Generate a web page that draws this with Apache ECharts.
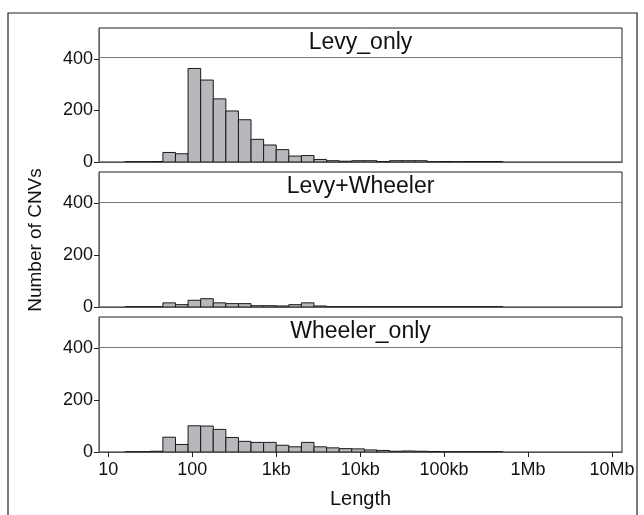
<!DOCTYPE html>
<html><head><meta charset="utf-8">
<script src="https://cdn.jsdelivr.net/npm/echarts@6/dist/echarts.min.js"></script>
<style>html,body{margin:0;padding:0;background:#fff}#c{width:644px;height:515px}</style>
</head><body><div id="c"></div>
<script>
// Histogram bins on log10(length) scale
const binLowerLog = [1.2,1.35,1.5,1.65,1.8,1.95,2.1,2.25,2.4,2.55,2.7,2.85,3.0,3.15,3.3,3.45,3.6,3.75,3.9,4.05,4.2,4.35,4.5,4.65,4.8,4.95,5.1,5.25,5.4,5.55];
const binWidthLog = 0.15;
const panelNames = ['Levy_only', 'Levy+Wheeler', 'Wheeler_only'];
const levyOnly =     [1,1,2,37,32,363,318,245,198,164,88,66,48,23,25,10,5,3,5,5,2,5,5,5,1,2,1,2,2,2];
const levyWheeler =  [1,1,1,16,9,26,32,16,13,13,5,5,4,9,16,4,1,1,1,1,1,1,1,1,1,1,1,1,1,1];
const wheelerOnly =  [1,1,3,57,29,101,100,87,56,41,37,37,26,20,37,20,16,13,12,8,6,3,4,3,2,1,1,1,1,1];
const panelValues = [levyOnly, levyWheeler, wheelerOnly];
const xTickValues = [1,2,3,4,5,6,7];
const xTickLabels = ['10','100','1kb','10kb','100kb','1Mb','10Mb'];
const yTickValues = [0,200,400];
const yMax = 520;
const stripLineValue = 405;

const FONT = "'Liberation Sans Narrow','Arial Narrow','Liberation Sans',Arial,sans-serif";
const gridTops = [28, 172, 317];
const gridH = [134, 135, 135];
const gridLeft = 99, gridRight = 22;

const chart = echarts.init(document.getElementById('c'), null, {renderer: 'canvas'});

const grids = [], xAxes = [], yAxes = [], series = [], graphics = [];
panelNames.forEach((name, i) => {
  grids.push({left: gridLeft, right: gridRight, top: gridTops[i], height: gridH[i], show: true, borderColor: '#1e1e1e', borderWidth: 1, containLabel: false});
  const last = i === panelNames.length - 1;
  xAxes.push({
    type: 'value', gridIndex: i, min: 0.889, max: 7.119,
    axisLine: {show: true, lineStyle: {color: '#555', width: 1}},
    axisTick: {show: last, length: 5, customValues: xTickValues, lineStyle: {color: '#222'}},
    axisLabel: {show: last, customValues: xTickValues, margin: 9, fontFamily: FONT, fontSize: 18, color: '#111',
      formatter: v => { const k = xTickValues.indexOf(Math.round(v)); return k >= 0 ? xTickLabels[k] : ''; }},
    splitLine: {show: false},
    name: last ? 'Length' : '', nameLocation: 'middle', nameGap: 37,
    nameTextStyle: {fontFamily: FONT, fontSize: 20, color: '#111'}
  });
  yAxes.push({
    type: 'value', gridIndex: i, min: 0, max: yMax,
    axisLine: {show: true, lineStyle: {color: '#666', width: 1}},
    axisTick: {show: true, length: 5, customValues: yTickValues, lineStyle: {color: '#222'}},
    axisLabel: {customValues: yTickValues, margin: 6, fontFamily: FONT, fontSize: 18, color: '#111'},
    splitLine: {show: false}
  });
  const data = panelValues[i].map((v, k) => [binLowerLog[k], binLowerLog[k] + binWidthLog, v]);
  series.push({
    type: 'custom', xAxisIndex: i, yAxisIndex: i, data: data, clip: true,
    encode: {x: [0, 1], y: 2},
    renderItem: (params, api) => {
      const p0 = api.coord([api.value(0), api.value(2)]);
      const p1 = api.coord([api.value(1), 0]);
      return {type: 'rect', shape: {x: p0[0], y: p0[1], width: p1[0] - p0[0], height: p1[1] - p0[1]},
        style: {fill: '#b7b8bc', stroke: '#1a1a1a', lineWidth: 1}};
    },
    markLine: {silent: true, symbol: 'none', label: {show: false},
      lineStyle: {color: '#777', type: 'solid', width: 1.2}, data: [{yAxis: stripLineValue}], animation: false},
    animation: false
  });
  graphics.push({type: 'text', x: gridLeft + (644 - gridLeft - gridRight) / 2, y: gridTops[i] + 15,
    style: {text: name, fontFamily: FONT, fontSize: 23, fill: '#111', textAlign: 'center', textVerticalAlign: 'middle'}});
});
// outer frame
graphics.push({type: 'rect', shape: {x: 8, y: 13, width: 629, height: 520}, style: {fill: 'none', stroke: '#222', lineWidth: 1.2}, z: -1});
// y-axis title
graphics.push({type: 'text', x: 36, y: 240, rotation: Math.PI / 2,
  style: {text: 'Number of CNVs', fontFamily: FONT, fontSize: 19, fill: '#111', textAlign: 'center', textVerticalAlign: 'middle'}});

chart.setOption({
  animation: false,
  grid: grids, xAxis: xAxes, yAxis: yAxes, series: series,
  graphic: graphics
});
</script></body></html>
